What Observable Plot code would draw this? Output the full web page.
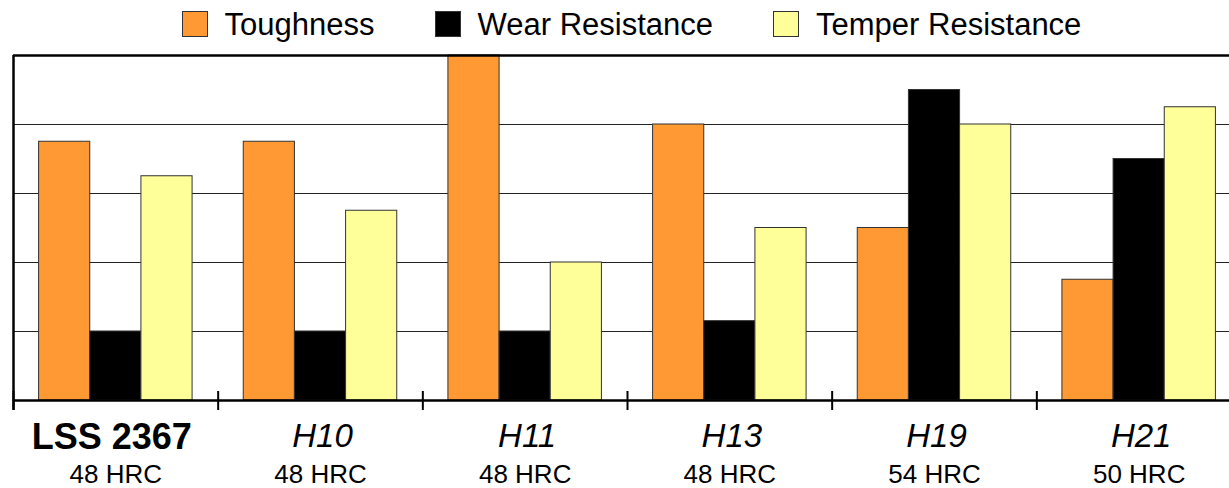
<!DOCTYPE html>
<html><head><meta charset="utf-8">
<script src="https://cdn.jsdelivr.net/npm/d3@7"></script>
<script src="https://cdn.jsdelivr.net/npm/@observablehq/plot@0.6"></script>
<style>
html,body{margin:0;padding:0;background:#fff;overflow:hidden;}
body{font-family:"Liberation Sans",Arial,sans-serif;}
#legend{height:45px;display:flex;align-items:center;justify-content:center;padding-left:34px;padding-top:3px;box-sizing:border-box;font-size:31px;line-height:1;color:#000;}
.item{display:flex;align-items:center;margin:0 30px;}
.sw{width:26px;height:26px;border:1px solid #333;box-sizing:border-box;margin-right:17px;}
#chart svg{display:block;}
</style></head><body>
<div id="legend"></div>
<div id="chart"></div>
<script>
const steels = ["LSS 2367", "H10", "H11", "H13", "H19", "H21"];
const hardness = ["48 HRC", "48 HRC", "48 HRC", "48 HRC", "54 HRC", "50 HRC"];
const featured = "LSS 2367";
const series = ["Toughness", "Wear Resistance", "Temper Resistance"];
const colors = ["#FF9933", "#000000", "#FFFF99"];
const toughness = [3.75, 3.75, 5, 4, 2.5, 1.75];
const wearResistance = [1, 1, 1, 1.15, 4.5, 3.5];
const temperResistance = [3.25, 2.75, 2, 2.5, 4, 4.25];
const gridValues = [1, 2, 3, 4];
const yMax = 5;

const valuesBySeries = [toughness, wearResistance, temperResistance];
const barW = 0.25;
const groupPad = (1 - series.length * barW) / 2;
const rows = [];
steels.forEach((s, i) => {
  series.forEach((name, j) => {
    const x1 = i + groupPad + j * barW;
    rows.push({steel: s, series: name, value: valuesBySeries[j][i], x1, x2: x1 + barW});
  });
});
const boundaries = steels.map((_, i) => i);

// legend
const legend = document.getElementById("legend");
series.forEach((name, j) => {
  const item = document.createElement("div");
  item.className = "item";
  const sw = document.createElement("div");
  sw.className = "sw";
  sw.style.background = colors[j];
  const t = document.createElement("span");
  t.textContent = name;
  item.appendChild(sw); item.appendChild(t);
  legend.appendChild(item);
});

const font = '"Liberation Sans", Arial, sans-serif';
const chart = Plot.plot({
  width: 1229,
  height: 443,
  marginTop: 10,
  marginBottom: 88,
  marginLeft: 13,
  marginRight: -12,
  x: {domain: [0, steels.length], axis: null},
  y: {domain: [0, yMax], axis: null},
  color: {domain: series, range: colors},
  style: {fontFamily: font, background: "white", overflow: "visible", color: "black"},
  marks: [
    Plot.ruleY(gridValues, {stroke: "#222", strokeWidth: 1}),
    Plot.rect(rows, {x1: "x1", x2: "x2", y1: 0, y2: "value", fill: "series", stroke: "#333", strokeWidth: 1}),
    Plot.ruleY([0], {stroke: "#000", strokeWidth: 2.5}),
    Plot.ruleY([yMax], {stroke: "#000", strokeWidth: 2.5}),
    Plot.ruleX([0], {y1: yMax, y2: 0, insetBottom: -10, stroke: "#000", strokeWidth: 2.5}),
    Plot.ruleX(boundaries, {y1: 0, y2: 0, insetTop: -9, insetBottom: -10, stroke: "#000", strokeWidth: 2}),
    Plot.text(steels, {filter: d => d === featured, x: (d, i) => i + 0.5, frameAnchor: "bottom", lineAnchor: "bottom", dy: 48, dx: -4, text: d => d, fontSize: 36, fontWeight: "bold", fill: "black"}),
    Plot.text(steels, {filter: d => d !== featured, x: (d, i) => i + 0.5, frameAnchor: "bottom", lineAnchor: "bottom", dy: 46, dx: 2, text: d => d, fontSize: 33, fontStyle: "italic", fill: "black"}),
    Plot.text(hardness, {x: (d, i) => i + 0.5, frameAnchor: "bottom", lineAnchor: "bottom", dy: 82, text: d => d, fontSize: 26, fill: "black"})
  ]
});
document.getElementById("chart").appendChild(chart);
</script>
</body></html>
